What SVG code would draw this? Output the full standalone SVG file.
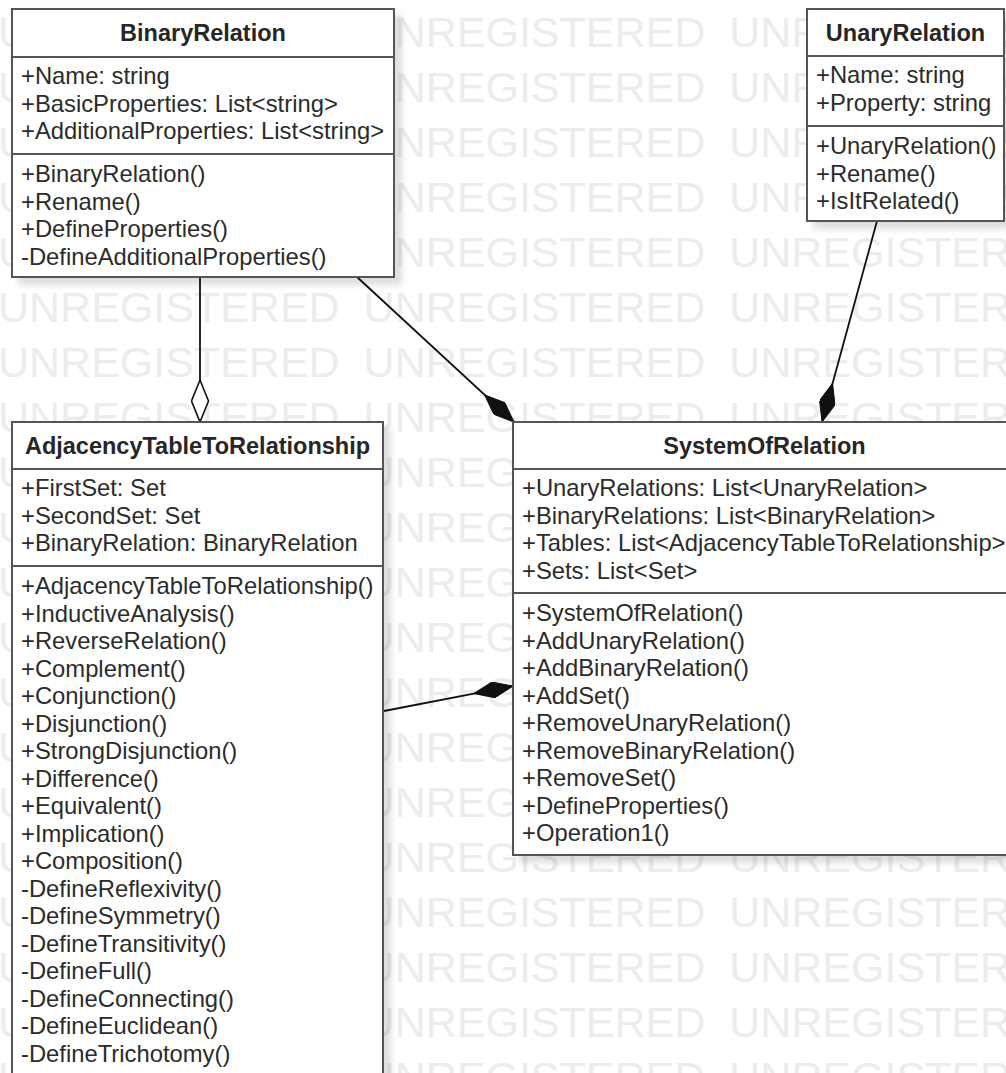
<svg xmlns="http://www.w3.org/2000/svg" width="1006" height="1073" viewBox="0 0 1006 1073">
  <style>
    .wm { font-family: "Liberation Sans", Arial, sans-serif; font-size: 43px; fill: #ececec; word-spacing: 12px; }
    .box { fill: #ffffff; stroke: #555555; stroke-width: 2; filter: url(#shadow); }
    .div { stroke: #555555; stroke-width: 2; }
    .title { font-family: "Liberation Sans", Arial, sans-serif; font-size: 23.5px; font-weight: bold; fill: #262626; text-anchor: middle; }
    .row { font-family: "Liberation Sans", Arial, sans-serif; font-size: 23.8px; fill: #2b2b2b; }
    .edge { stroke: #111111; stroke-width: 1.8; fill: none; }
  </style>
  <defs>
    <filter id="shadow" x="-10%" y="-10%" width="130%" height="130%">
      <feDropShadow dx="7" dy="7" stdDeviation="3" flood-color="#000000" flood-opacity="0.13"/>
    </filter>
    <!-- composition: filled diamond, tip sits on the line end -->
    <marker id="diamond-filled" viewBox="0 0 40 16" refX="40" refY="8" markerWidth="40" markerHeight="16" markerUnits="userSpaceOnUse" orient="auto">
      <path d="M0,8 L20,0 L40,8 L20,16 Z" fill="#111111" stroke="#111111" stroke-width="1"/>
    </marker>
    <!-- aggregation: hollow diamond -->
    <marker id="diamond-open" viewBox="-1 -1 44 19" refX="42" refY="8.5" markerWidth="44" markerHeight="19" markerUnits="userSpaceOnUse" orient="auto">
      <path d="M0,8.5 L21,0 L42,8.5 L21,17 Z" fill="#ffffff" stroke="#111111" stroke-width="1.6"/>
    </marker>
  </defs>

  <rect width="1006" height="1073" fill="#ffffff"/>

  <!-- background watermark rows -->
  <g id="watermark">
    <text class="wm" x="-2" y="47">UNREGISTERED UNREGISTERED UNREGISTERED</text>
    <text class="wm" x="-2" y="102">UNREGISTERED UNREGISTERED UNREGISTERED</text>
    <text class="wm" x="-2" y="157">UNREGISTERED UNREGISTERED UNREGISTERED</text>
    <text class="wm" x="-2" y="212">UNREGISTERED UNREGISTERED UNREGISTERED</text>
    <text class="wm" x="-2" y="267">UNREGISTERED UNREGISTERED UNREGISTERED</text>
    <text class="wm" x="-2" y="322">UNREGISTERED UNREGISTERED UNREGISTERED</text>
    <text class="wm" x="-2" y="377">UNREGISTERED UNREGISTERED UNREGISTERED</text>
    <text class="wm" x="-2" y="432">UNREGISTERED UNREGISTERED UNREGISTERED</text>
    <text class="wm" x="-2" y="487">UNREGISTERED UNREGISTERED UNREGISTERED</text>
    <text class="wm" x="-2" y="542">UNREGISTERED UNREGISTERED UNREGISTERED</text>
    <text class="wm" x="-2" y="597">UNREGISTERED UNREGISTERED UNREGISTERED</text>
    <text class="wm" x="-2" y="652">UNREGISTERED UNREGISTERED UNREGISTERED</text>
    <text class="wm" x="-2" y="707">UNREGISTERED UNREGISTERED UNREGISTERED</text>
    <text class="wm" x="-2" y="762">UNREGISTERED UNREGISTERED UNREGISTERED</text>
    <text class="wm" x="-2" y="817">UNREGISTERED UNREGISTERED UNREGISTERED</text>
    <text class="wm" x="-2" y="872">UNREGISTERED UNREGISTERED UNREGISTERED</text>
    <text class="wm" x="-2" y="927">UNREGISTERED UNREGISTERED UNREGISTERED</text>
    <text class="wm" x="-2" y="982">UNREGISTERED UNREGISTERED UNREGISTERED</text>
    <text class="wm" x="-2" y="1037">UNREGISTERED UNREGISTERED UNREGISTERED</text>
    <text class="wm" x="-2" y="1092">UNREGISTERED UNREGISTERED UNREGISTERED</text>
  </g>

  <!-- associations -->
  <g id="connectors">
    <line class="edge" x1="200" y1="277" x2="200" y2="422" marker-end="url(#diamond-open)"/>
    <line class="edge" x1="357" y1="277" x2="514" y2="422" marker-end="url(#diamond-filled)"/>
    <line class="edge" x1="877" y1="221" x2="822" y2="422" marker-end="url(#diamond-filled)"/>
    <line class="edge" x1="384" y1="711" x2="513" y2="686" marker-end="url(#diamond-filled)"/>
  </g>

  <g id="BinaryRelation">
    <rect class="box" x="12" y="9" width="382" height="268"/>
    <line class="div" x1="12" y1="57" x2="394" y2="57"/>
    <line class="div" x1="12" y1="154" x2="394" y2="154"/>
    <text class="title" x="203" y="41">BinaryRelation</text>
    <text class="row" x="21" y="84">+Name: string</text>
    <text class="row" x="21" y="111.5">+BasicProperties: List&lt;string&gt;</text>
    <text class="row" x="21" y="139">+AdditionalProperties: List&lt;string&gt;</text>
    <text class="row" x="21" y="182">+BinaryRelation()</text>
    <text class="row" x="21" y="209.5">+Rename()</text>
    <text class="row" x="21" y="237">+DefineProperties()</text>
    <text class="row" x="21" y="264.5">-DefineAdditionalProperties()</text>
  </g>

  <g id="UnaryRelation">
    <rect class="box" x="807" y="9" width="197" height="212"/>
    <line class="div" x1="807" y1="56" x2="1004" y2="56"/>
    <line class="div" x1="807" y1="126" x2="1004" y2="126"/>
    <text class="title" x="905.5" y="41">UnaryRelation</text>
    <text class="row" x="816" y="83">+Name: string</text>
    <text class="row" x="816" y="110.5">+Property: string</text>
    <text class="row" x="816" y="154">+UnaryRelation()</text>
    <text class="row" x="816" y="181.5">+Rename()</text>
    <text class="row" x="816" y="209">+IsItRelated()</text>
  </g>

  <g id="AdjacencyTableToRelationship">
    <rect class="box" x="12" y="422" width="371" height="680"/>
    <line class="div" x1="12" y1="469" x2="383" y2="469"/>
    <line class="div" x1="12" y1="566" x2="383" y2="566"/>
    <text class="title" x="197.5" y="454">AdjacencyTableToRelationship</text>
    <text class="row" x="21" y="496">+FirstSet: Set</text>
    <text class="row" x="21" y="523.5">+SecondSet: Set</text>
    <text class="row" x="21" y="551">+BinaryRelation: BinaryRelation</text>
    <text class="row" x="21" y="594">+AdjacencyTableToRelationship()</text>
    <text class="row" x="21" y="621.5">+InductiveAnalysis()</text>
    <text class="row" x="21" y="649">+ReverseRelation()</text>
    <text class="row" x="21" y="676.5">+Complement()</text>
    <text class="row" x="21" y="704">+Conjunction()</text>
    <text class="row" x="21" y="731.5">+Disjunction()</text>
    <text class="row" x="21" y="759">+StrongDisjunction()</text>
    <text class="row" x="21" y="786.5">+Difference()</text>
    <text class="row" x="21" y="814">+Equivalent()</text>
    <text class="row" x="21" y="841.5">+Implication()</text>
    <text class="row" x="21" y="869">+Composition()</text>
    <text class="row" x="21" y="896.5">-DefineReflexivity()</text>
    <text class="row" x="21" y="924">-DefineSymmetry()</text>
    <text class="row" x="21" y="951.5">-DefineTransitivity()</text>
    <text class="row" x="21" y="979">-DefineFull()</text>
    <text class="row" x="21" y="1006.5">-DefineConnecting()</text>
    <text class="row" x="21" y="1034">-DefineEuclidean()</text>
    <text class="row" x="21" y="1061.5">-DefineTrichotomy()</text>
  </g>

  <g id="SystemOfRelation">
    <rect class="box" x="513" y="422" width="503" height="433"/>
    <line class="div" x1="513" y1="469" x2="1016" y2="469"/>
    <line class="div" x1="513" y1="593" x2="1016" y2="593"/>
    <text class="title" x="764.5" y="454">SystemOfRelation</text>
    <text class="row" x="522" y="496">+UnaryRelations: List&lt;UnaryRelation&gt;</text>
    <text class="row" x="522" y="523.5">+BinaryRelations: List&lt;BinaryRelation&gt;</text>
    <text class="row" x="522" y="551">+Tables: List&lt;AdjacencyTableToRelationship&gt;</text>
    <text class="row" x="522" y="578.5">+Sets: List&lt;Set&gt;</text>
    <text class="row" x="522" y="621">+SystemOfRelation()</text>
    <text class="row" x="522" y="648.5">+AddUnaryRelation()</text>
    <text class="row" x="522" y="676">+AddBinaryRelation()</text>
    <text class="row" x="522" y="703.5">+AddSet()</text>
    <text class="row" x="522" y="731">+RemoveUnaryRelation()</text>
    <text class="row" x="522" y="758.5">+RemoveBinaryRelation()</text>
    <text class="row" x="522" y="786">+RemoveSet()</text>
    <text class="row" x="522" y="813.5">+DefineProperties()</text>
    <text class="row" x="522" y="841">+Operation1()</text>
  </g>
</svg>
